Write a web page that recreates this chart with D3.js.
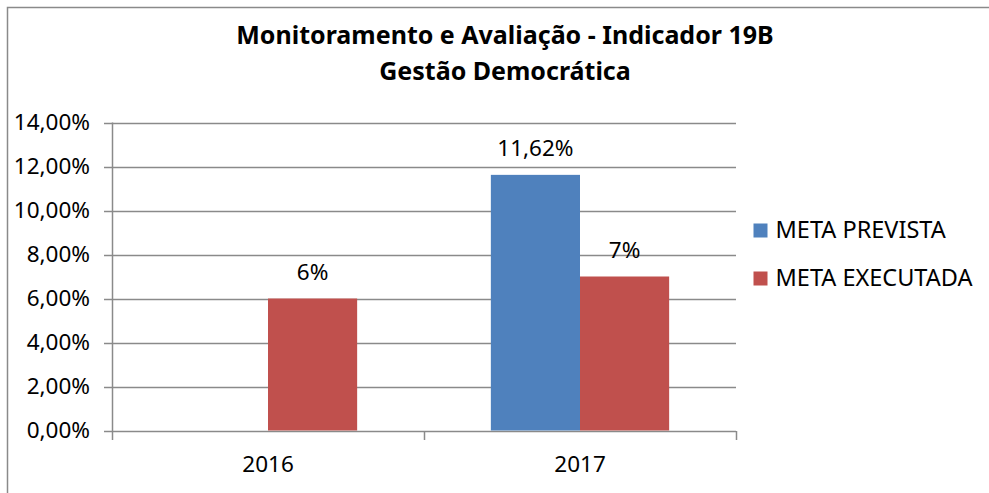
<!DOCTYPE html>
<html>
<head>
<meta charset="utf-8">
<script src="https://cdn.jsdelivr.net/npm/d3@7"></script>
<style>
  html, body { margin: 0; padding: 0; background: #fff; overflow: hidden; }
  svg { display: block; }
  text { font-family: "Noto Sans", "Open Sans", sans-serif; fill: #000; }
</style>
</head>
<body>
<svg id="chart" width="989" height="493"></svg>
<script>
// Chart data
const titleLines = ["Monitoramento e Avaliação - Indicador 19B", "Gestão Democrática"];
const categories = ["2016", "2017"];
const seriesNames = ["META PREVISTA", "META EXECUTADA"];
const seriesColors = ["#4F81BD", "#C0504D"];
const metaPrevista = [null, 11.62];
const metaExecutada = [6, 7];
const valueLabels = [[null, "11,62%"], ["6%", "7%"]];
const yTicks = [0, 2, 4, 6, 8, 10, 12, 14];

const seriesValues = [metaPrevista, metaExecutada];

const svg = d3.select("#chart");
const W = 989, H = 493;
const gridColor = "#8a8a8a";

// Outer frame (right and bottom edges run off the canvas)
svg.append("rect")
  .attr("x", 7.5).attr("y", 7.5)
  .attr("width", W + 20).attr("height", H + 20)
  .attr("fill", "#fff").attr("stroke", "#8a8a8a").attr("stroke-width", 1.5);

// Title
svg.append("g").selectAll("text")
  .data(titleLines)
  .join("text")
  .attr("x", 505)
  .attr("y", (d, i) => 44 + i * 36)
  .attr("text-anchor", "middle")
  .attr("font-weight", "bold")
  .attr("font-size", 25)
  .text(d => d);

// Plot area
const plot = { left: 112, right: 736, top: 122.5, bottom: 430.5 };

const x0 = d3.scaleBand()
  .domain(categories)
  .range([plot.left, plot.right])
  .paddingInner(0).paddingOuter(0);

// gap width 150% => the two bars fill 2 of 3.5 units in each band
const x1 = d3.scaleBand()
  .domain(d3.range(seriesNames.length))
  .range([0, x0.bandwidth()])
  .paddingInner(0)
  .paddingOuter(0.75);

const y = d3.scaleLinear().domain([0, 14]).range([plot.bottom, plot.top]);

const fmt = v => d3.format(".2f")(v).replace(".", ",") + "%";

// Gridlines
svg.append("g").selectAll("line")
  .data(yTicks)
  .join("line")
  .attr("x1", plot.left - 8).attr("x2", plot.right)
  .attr("y1", d => Math.round(y(d)) + 0.5).attr("y2", d => Math.round(y(d)) + 0.5)
  .attr("stroke", gridColor).attr("stroke-width", 1.5);

// Y axis
const yAxis = svg.append("g")
  .attr("transform", `translate(${plot.left},0)`)
  .call(d3.axisLeft(y).tickValues(yTicks).tickFormat(fmt).tickSize(8).tickPadding(14));
yAxis.select(".domain").attr("stroke", gridColor).attr("stroke-width", 1.5)
  .attr("d", `M0.5,${plot.top}V${plot.bottom + 0.5}`);
yAxis.selectAll(".tick line").remove();
yAxis.selectAll("text")
  .attr("font-family", "'Noto Sans', sans-serif")
  .attr("font-size", 22.5).attr("fill", "#000");

// X axis
const xAxis = svg.append("g")
  .attr("transform", `translate(0,${Math.round(plot.bottom) + 0.5})`)
  .call(d3.axisBottom(x0).tickSize(0).tickPadding(25));
xAxis.select(".domain").remove();
xAxis.selectAll("text")
  .attr("font-family", "'Noto Sans', sans-serif")
  .attr("font-size", 22.5).attr("fill", "#000");
// category boundary ticks
svg.append("g").selectAll("line")
  .data([plot.left, x0("2017"), plot.right])
  .join("line")
  .attr("x1", d => Math.round(d) + 0.5).attr("x2", d => Math.round(d) + 0.5)
  .attr("y1", Math.round(plot.bottom)).attr("y2", Math.round(plot.bottom) + 9)
  .attr("stroke", gridColor).attr("stroke-width", 1.5);

// Bars
const groups = svg.append("g").selectAll("g")
  .data(categories)
  .join("g")
  .attr("transform", d => `translate(${x0(d)},0)`);

groups.selectAll("rect")
  .data((c, ci) => seriesValues.map((vals, si) => ({ si, v: vals[ci] })).filter(d => d.v != null))
  .join("rect")
  .attr("x", d => x1(d.si))
  .attr("width", x1.bandwidth())
  .attr("y", d => y(d.v))
  .attr("height", d => y(0) - y(d.v))
  .attr("fill", d => seriesColors[d.si]);

// Value labels
groups.selectAll("text.val")
  .data((c, ci) => seriesValues.map((vals, si) => ({ si, v: vals[ci], label: valueLabels[si][ci] })).filter(d => d.v != null))
  .join("text")
  .attr("class", "val")
  .attr("x", d => x1(d.si) + x1.bandwidth() / 2)
  .attr("y", d => y(d.v) - 19)
  .attr("text-anchor", "middle")
  .attr("font-size", 22.5)
  .text(d => d.label);

// Legend
const legend = svg.append("g").selectAll("g")
  .data(seriesNames)
  .join("g")
  .attr("transform", (d, i) => `translate(753.5,${223.5 + i * 48})`);
legend.append("rect")
  .attr("width", 14).attr("height", 14)
  .attr("fill", (d, i) => seriesColors[i]);
legend.append("text")
  .attr("x", 22).attr("y", 14.5)
  .attr("font-size", 23.5)
  .text(d => d);
</script>
</body>
</html>
